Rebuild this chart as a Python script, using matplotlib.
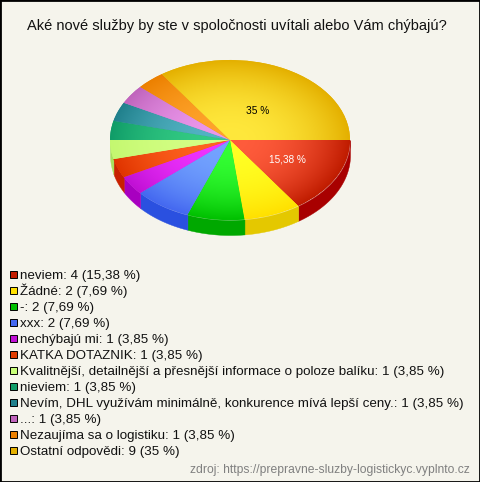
import matplotlib

matplotlib.use("Agg")
import matplotlib.pyplot as plt
import matplotlib.patches as mpatches
from matplotlib.colors import to_rgb
import numpy as np

W, H = 480, 482
BG = "#f5f4ec"

title = "Aké nové služby by ste v spoločnosti uvítali alebo Vám chýbajú?"
source = "zdroj: https://prepravne-sluzby-logistickyc.vyplnto.cz"

names = [
    "neviem", "Žádné", "-", "xxx", "nechýbajú mi", "KATKA DOTAZNIK",
    "Kvalitnější, detailnější a přesnější informace o poloze balíku",
    "nieviem", "Nevím, DHL využívám minimálně, konkurence mívá lepší ceny.",
    "...", "Nezaujíma sa o logistiku", "Ostatní odpovědi",
]
counts = [4, 2, 2, 2, 1, 1, 1, 1, 1, 1, 1, 9]
shares = ["15,38", "7,69", "7,69", "7,69", "3,85", "3,85", "3,85", "3,85", "3,85", "3,85", "3,85", "35"]

# gradient centre, gradient edge, side wall, legend swatch
inner = ["#ff5c3c", "#ffff24", "#34ff34", "#74a4ff", "#f034ff", "#ff6420",
         "#d4ff84", "#34cc84", "#54b4c4", "#ec98ec", "#ffa42c", "#ffe83c"]
outer = ["#c01c00", "#ffe000", "#00c000", "#4468f0", "#c010d4", "#e03400",
         "#c4f870", "#109c68", "#20808c", "#c064bc", "#ec8000", "#e4b000"]
side = ["#a80000", "#e4c800", "#00a800", "#2a50e0", "#a800c0", "#c82000",
        "#a8e060", "#008850", "#006878", "#a04aa0", "#d06800", "#c89800"]
swatch = ["#c41c00", "#ffe000", "#00c000", "#4468f0", "#c010d4", "#e03c00",
          "#c8ff78", "#109c68", "#20808c", "#c064bc", "#ec8000", "#e4b000"]

pie_labels = {0: ("15,38 %", "white"), 11: ("35 %", "black")}

plt.rcParams["font.family"] = ["Liberation Sans", "DejaVu Sans"]

fig = plt.figure(figsize=(W / 100, H / 100), dpi=100, facecolor=BG)

# the pie sits in a box of 240 x 160 px, 15 px wall below it
px, py, pw, ph, depth = 110, 60, 240, 160, 15
ax = fig.add_axes([px / W, 1 - (py + ph + depth) / H, pw / W, (ph + depth) / H])
ylim = (-1 - 2 * depth / ph, 1)


def lerp_image(c0, c1):
    yy, xx = np.mgrid[1:-1:240j, -1:1:240j]
    r = np.clip(np.hypot(xx, yy), 0, 1)[..., None] ** 2.2
    return (1 - r) * np.array(to_rgb(c0)) + r * np.array(to_rgb(c1))


# side wall, only the front half of the ellipse shows
edges = np.cumsum([0] + counts) / sum(counts) * 360
d = 2 * depth / ph
for i in range(len(counts)):
    a0, a1 = edges[i], min(edges[i + 1], 180)
    if a0 >= 180:
        continue
    t = np.radians(np.linspace(a0, a1, 40))
    xs = np.cos(t)
    ys = -np.sin(t)
    ax.fill_between(xs, ys, ys - d, color=side[i], lw=0.3, zorder=1)

wedges, _ = ax.pie(counts, startangle=0, counterclock=False, radius=1,
                   colors=outer, wedgeprops={"lw": 0})
for i, w in enumerate(wedges):
    w.set_zorder(2)
    im = ax.imshow(lerp_image(inner[i], outer[i]), extent=(-1, 1, -1, 1),
                   aspect="auto", zorder=3, interpolation="bilinear")
    im.set_clip_path(w)

ax.set_aspect("auto")
ax.set_xlim(-1, 1)
ax.set_ylim(*ylim)
ax.axis("off")


def put(x, y, s, **kw):
    fig.text(x / W, 1 - y / H, s, va="baseline", **kw)


put(236.5, 30, title, ha="center", fontsize=10.53, color="#111111")
put(269, 163, pie_labels[0][0], ha="left", fontsize=7.2, color=pie_labels[0][1])
put(246, 114, pie_labels[11][0], ha="left", fontsize=7.3, color=pie_labels[11][1])

y0, step = 279, 16
for i, (n, c, s) in enumerate(zip(names, counts, shares)):
    y = y0 + i * step
    fig.add_artist(mpatches.Rectangle((9.5 / W, 1 - (y - 1) / H), 7 / W, 7 / H,
                                      transform=fig.transFigure, fc=swatch[i], ec="black", lw=0.7))
    put(20, y, f"{n}: {c} ({s} %)", ha="left", fontsize=9.62, color="#111111")

put(470, 473, source, ha="right", fontsize=8.7, color="#808080")

# 1 px frame
fig.add_artist(mpatches.Rectangle((0, 0), 1, 1, transform=fig.transFigure, fill=False, ec="black", lw=2))

fig.savefig("out.png", dpi=100, facecolor=BG)
